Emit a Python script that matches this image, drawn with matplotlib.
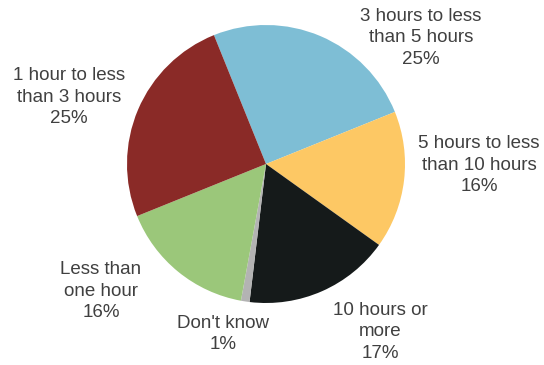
import matplotlib
matplotlib.use("Agg")
from matplotlib import pyplot as plt

categories = ["3 hours to less\nthan 5 hours", "5 hours to less\nthan 10 hours",
              "10 hours or\nmore", "Don't know", "Less than\none hour",
              "1 hour to less\nthan 3 hours"]
shares = [25, 16, 17, 1, 16, 25]
colors = ["#7ebed5", "#fdc864", "#151a1a", "#b3b3b3", "#9bc77a", "#8a2a27"]

# label centres in pixels (x from left, y from top)
label_pos = [(421, 38), (479, 165), (380, 332), (223, 334), (101, 291), (69, 97)]

W, H = 544, 365
fig = plt.figure(figsize=(W / 100, H / 100), dpi=100)
ax = fig.add_axes([127 / W, 62 / H, 278 / W, 278 / H])

ax.pie(shares, colors=colors, startangle=112, counterclock=False,
       wedgeprops=dict(linewidth=0))
ax.set_xlim(-1, 1)
ax.set_ylim(-1, 1)
ax.set_aspect("equal")
ax.axis("off")

for cat, val, (px, py) in zip(categories, shares, label_pos):
    fig.text(px / W, 1 - py / H, cat + "\n" + str(val) + "%", ha="center", va="center",
             fontsize=13.5, color="#404040", family="Liberation Sans", linespacing=1.35)

fig.savefig("out.png", dpi=100)
